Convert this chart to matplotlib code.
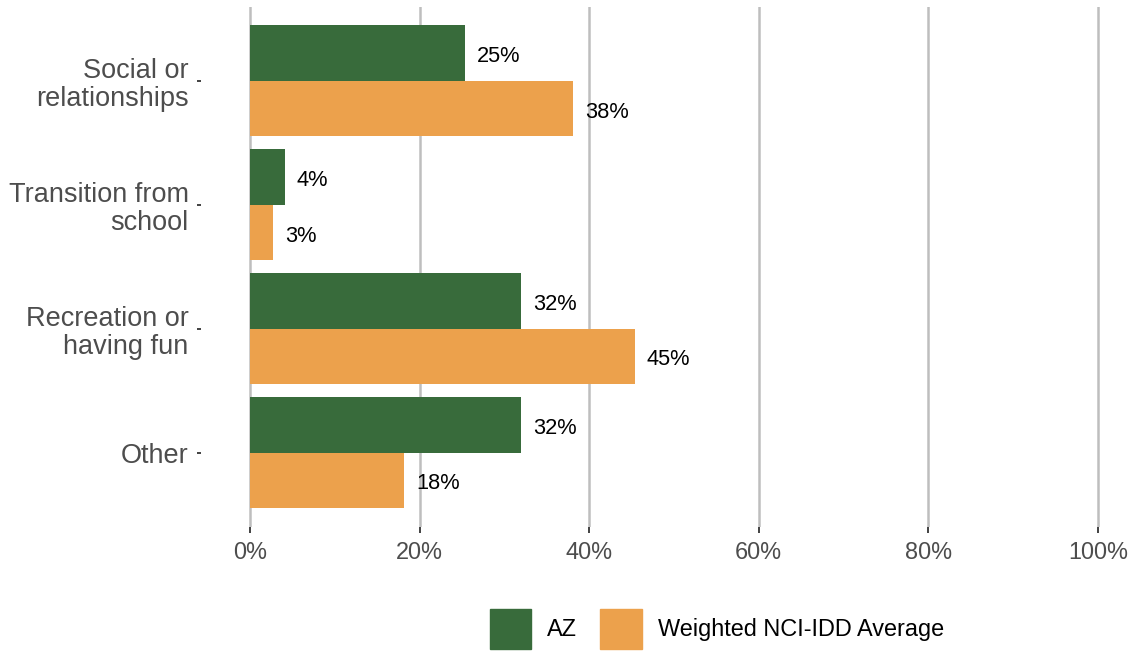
import matplotlib.pyplot as plt
from matplotlib.patches import Patch
import numpy as np

plt.rcParams['font.family'] = ['Liberation Sans', 'DejaVu Sans']

# data
categories = ['Social or\nrelationships', 'Transition from\nschool',
              'Recreation or\nhaving fun', 'Other']
az_values = [25.4, 4.1, 32.0, 32.0]
nci_values = [38.1, 2.7, 45.4, 18.2]
series_names = ['AZ', 'Weighted NCI-IDD Average']
x_ticks = [0, 20, 40, 60, 80, 100]
x_tick_labels = ['0%', '20%', '40%', '60%', '80%', '100%']

green = '#386B3B'
orange = '#ECA14C'

fig = plt.figure(figsize=(11.32, 6.52), dpi=100)
ax = fig.add_axes([201 / 1132, 1 - 527 / 652, 1 - 201 / 1132, (527 - 6.6) / 652])

y = np.arange(len(categories))
h = 0.448
ax.barh(y - h / 2, az_values, height=h, color=green, zorder=2)
ax.barh(y + h / 2, nci_values, height=h, color=orange, zorder=2)

for yy, v in zip(y - h / 2, az_values):
    ax.annotate(f'{round(v)}%', (v, yy), xytext=(8.5, -2.5), textcoords='offset points',
                va='center', ha='left', fontsize=15.7, color='black')
for yy, v in zip(y + h / 2, nci_values):
    ax.annotate(f'{round(v)}%', (v, yy), xytext=(8.5, -2.5), textcoords='offset points',
                va='center', ha='left', fontsize=15.7, color='black')

ax.set_xlim(-49 / 8.48, (1132 - 250) / 8.48)
ax.set_ylim(3.6, -0.6)
ax.set_xticks(x_ticks)
ax.set_xticklabels(x_tick_labels, fontsize=16.9)
ax.set_yticks(y)
ax.set_yticklabels(categories, linespacing=1.1, fontsize=19.5)
ax.grid(axis='x', color='#BEBEBE', linewidth=1.8, zorder=0)
ax.grid(axis='y', visible=False)
for s in ax.spines.values():
    s.set_visible(False)
ax.tick_params(axis='both', colors='#333333', labelcolor='#4D4D4D', width=1.3)
ax.tick_params(axis='x', length=4, pad=6)
ax.tick_params(axis='y', length=3, pad=6)

handles = [Patch(color=green), Patch(color=orange)]
fig.legend(handles, series_names, loc='center', bbox_to_anchor=(717 / 1132, 1 - 629 / 652),
           ncol=2, frameon=False, fontsize=16.9, handlelength=1.78, handleheight=2.3,
           handletextpad=0.68, columnspacing=0.98, borderpad=0.1)

fig.savefig('out.png', dpi=100)
